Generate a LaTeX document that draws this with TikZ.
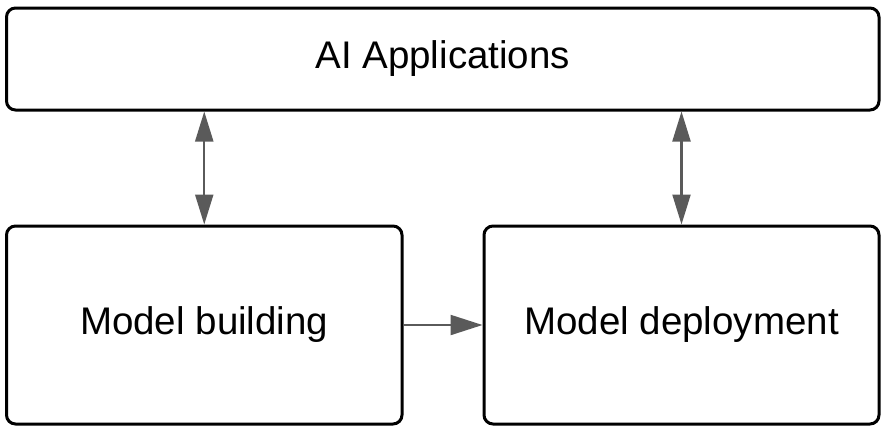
\documentclass[tikz,border=0pt]{standalone}
\usepackage{fontspec}
\setmainfont{Liberation Sans}
\usetikzlibrary{arrows.meta}
\definecolor{arrowgray}{HTML}{5A5A5A}
\tikzset{
  box/.style={draw=black, line width=3pt, rounded corners=9pt, fill=white,
    font=\fontsize{38.5}{44}\selectfont, inner sep=0pt},
  link/.style={draw=arrowgray, line width=2.2pt},
}
\begin{document}
\begin{tikzpicture}[x=1pt,y=-1pt]
\useasboundingbox (0,0) rectangle (886,432);
\node[box, minimum width=872.5pt, minimum height=102pt] (top) at (442.75,59) {AI Applications};
\node[box, minimum width=395.5pt, minimum height=198pt] (build) at (204.25,325) {Model building};
\node[box, minimum width=395pt, minimum height=198pt] (deploy) at (681.5,325) {Model deployment};
\draw[link, {Triangle[length=30pt,width=18pt]}-{Triangle[length=30pt,width=18pt]}] (build.north) -- (build.north |- top.south);
\draw[link, {Triangle[length=30pt,width=18pt]}-{Triangle[length=30pt,width=18pt]}] (deploy.north) -- (deploy.north |- top.south);
\draw[link, -{Triangle[length=32pt,width=20pt]}] (build.east) -- (deploy.west);
\end{tikzpicture}
\end{document}
